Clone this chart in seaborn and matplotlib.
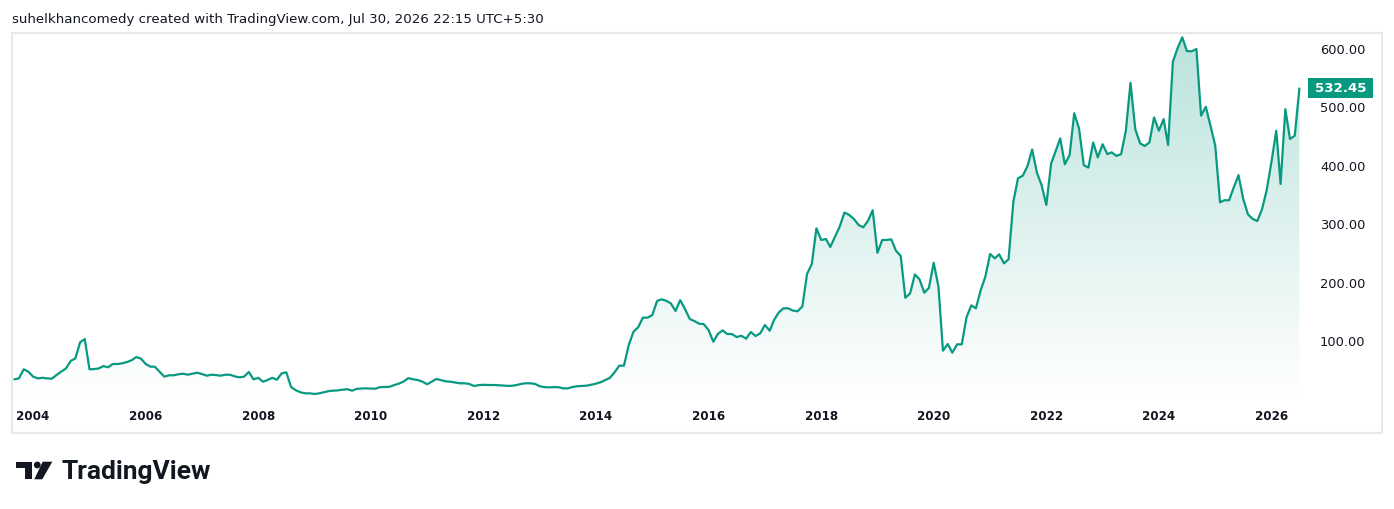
import matplotlib
matplotlib.use("Agg")
import numpy as np
import pandas as pd
import seaborn as sns
import matplotlib.pyplot as plt
import matplotlib.dates as mdates
from matplotlib.colors import to_rgb
from matplotlib.patches import Polygon, Rectangle, Ellipse
from matplotlib.transforms import blended_transform_factory

# ========= data (monthly close, Sep 2003 .. Jul 2026) =========
close_2003_2008 = [
    34.4, 36, 51.5, 47.5,                                                   # 2003 Sep-Dec
    39, 36, 37, 36, 35.5, 41.8, 47.5, 53, 65.8, 70.3, 97.7, 103.4,          # 2004
    51.5, 52, 53, 57, 55, 60.6, 60.6, 61.8, 64, 67, 72.6, 69.7,             # 2005
    60.6, 56, 56, 47.5, 39, 41.3, 41.3, 43, 44, 42.3, 44, 45.7,             # 2006
    43.5, 40.6, 42.3, 41.8, 40.6, 42.3, 42.3, 39.5, 37.8, 39, 47, 34.4,     # 2007
    37, 30.3, 33.2, 37, 33.7, 44.7, 46.4, 21.2, 15.6, 12.2, 10.4, 10.4,     # 2008
]
close_2009_2014 = [
    9.3, 10.5, 12.2, 14.2, 15, 15.5, 16.6, 17.5, 15, 18, 18.7, 19,          # 2009
    18.5, 18.5, 21, 21.2, 21.6, 24.5, 27, 30.5, 36.5, 34.5, 33.2, 30.5,     # 2010
    26, 30.5, 35, 33, 31, 30.3, 29, 27.6, 27.6, 26.5, 23, 24.5,             # 2011
    25, 24.7, 24.7, 24.4, 23.9, 23.3, 23.3, 24.4, 26.5, 27.6, 27.6, 26.5,   # 2012
    22.5, 21, 20.7, 21, 21, 19, 18.8, 21.3, 22.6, 23, 23.5, 25.3,           # 2013
    27, 29.5, 33, 37, 46.4, 57.8, 57.8, 93, 116, 123.4, 140, 140,           # 2014
]
close_2015_2020 = [
    144.5, 168.5, 171.4, 169, 164.5, 151.4, 170, 154.8, 137.7, 134.2, 129.6, 129,  # 2015
    118.8, 98.8, 112, 118.3, 112, 112, 106.8, 109, 104, 115.4, 108.6, 113,         # 2016
    127.4, 117.6, 136, 149, 156, 156, 152, 151, 159.4, 214.7, 231.8, 293,          # 2017
    273, 274.6, 261, 279, 296, 320, 316, 309, 298.6, 294.7, 306, 324,              # 2018
    251, 273, 273, 274, 254.6, 245.5, 174, 181.6, 214, 205.6, 182.7, 191,          # 2019
    234, 193, 83.4, 94.9, 80, 94.3, 94.3, 140.6, 161, 156, 187, 210,               # 2020
]
close_2021_2026 = [
    249, 241.6, 248.4, 233, 240, 338.6, 378.6, 383, 399.7, 428, 388, 367,          # 2021
    333, 404, 424, 447, 402.6, 418.5, 490, 464, 401, 397, 440, 414.5,              # 2022
    437, 420, 423, 417, 420, 460, 542, 463, 438.5, 434, 440, 483,                  # 2023
    460, 480, 435.6, 578, 601, 620, 596.6, 596, 600, 486, 501, 468.7,              # 2024
    434.5, 337.5, 341, 341, 363, 384, 344, 317, 309, 305.5, 326, 358.5,            # 2025
    407, 460, 369, 497, 446, 451.6, 532.45,                                        # 2026 Jan-Jul
]
start_month = "2003-09-01"
year_ticks = [2004, 2006, 2008, 2010, 2012, 2014, 2016, 2018, 2020, 2022, 2024, 2026]
price_ticks = [100, 200, 300, 400, 500, 600]
title_text = "suhelkhancomedy created with TradingView.com, Jul 30, 2026 22:15 UTC+5:30"
last_label = "532.45"
# ==============================================================

closes = close_2003_2008 + close_2009_2014 + close_2015_2020 + close_2021_2026
df = pd.DataFrame({
    "date": pd.date_range(start_month, periods=len(closes), freq="MS"),
    "close": closes,
})

LINE = "#089981"
TXT = "#131722"
W, H = 1394, 509

sns.set_style("white")
plt.rcParams["font.family"] = ["DejaVu Sans"]

fig = plt.figure(figsize=(W / 100, H / 100), dpi=100)
fig.patch.set_facecolor("white")


def fx(px):
    return px / W


def fy(py):
    return 1 - py / H


# price pane: x 12..1302, y 33..400 (pixels)
ax = fig.add_axes([fx(12), fy(400), (1302 - 12) / W, (400 - 33) / H])
ax.set_facecolor("none")

sns.lineplot(data=df, x="date", y="close", color=LINE, linewidth=1.6, ax=ax, zorder=3)

x = mdates.date2num(df["date"])
ymin, ymax = -1.0, 627.4

# gradient area under the line
verts = [(x[0], ymin)] + list(zip(x, df["close"])) + [(x[-1], ymin)]
clip = Polygon(verts, closed=True, facecolor="none", edgecolor="none", transform=ax.transData)
ax.add_patch(clip)
grad = np.zeros((256, 1, 4))
grad[..., :3] = to_rgb(LINE)
grad[:, 0, 3] = np.linspace(0.0, 0.28, 256)
im = ax.imshow(grad, extent=[x[0], x[-1], ymin, ymax], origin="lower",
               aspect="auto", zorder=1, interpolation="bilinear")
im.set_clip_path(clip)

ax.set_xlim(x[0] - 15, x[-1] + 17)
ax.set_ylim(ymin, ymax)

# axes / ticks
for s in ax.spines.values():
    s.set_visible(False)
ax.set_xlabel("")
ax.set_ylabel("")
ax.set_xticks([mdates.date2num(pd.Timestamp(f"{y}-01-01")) for y in year_ticks])
ax.set_xticklabels([str(y) for y in year_ticks], fontweight="bold")
ax.tick_params(axis="x", length=0, pad=7, labelsize=8.6, labelcolor=TXT)
ax.yaxis.tick_right()
ax.set_yticks(price_ticks)
ax.set_yticklabels([f"{v:.2f}" for v in price_ticks])
ax.tick_params(axis="y", length=0, pad=13, labelsize=9.4, labelcolor=TXT)
ax.grid(False)

# last price label
bt = blended_transform_factory(ax.transAxes, ax.transData)
last = df["close"].iloc[-1]
ax.add_patch(Rectangle((1.0046, last - 17.1), 0.0504, 34.2, transform=bt,
                       facecolor=LINE, edgecolor="none", clip_on=False, zorder=5))
ax.text(1.0046 + 0.0252, last, last_label, transform=bt, ha="center", va="center",
        color="white", fontsize=9.6, fontweight="semibold", zorder=6, clip_on=False)

# outer frame
fig.patches.append(Rectangle((fx(12), fy(433)), (1382 - 12) / W, (433 - 33) / H,
                             transform=fig.transFigure, facecolor="none",
                             edgecolor="#e8e8e8", linewidth=1.5))

# header
fig.text(fx(12), fy(19), title_text, ha="left", va="center", fontsize=9.6, color=TXT,
         family=["Liberation Sans Narrow", "DejaVu Sans"])

# TradingView logo
logo_t = [(15.7, 461.7), (32.3, 461.7), (32.3, 479.3), (25, 479.3), (25, 468.3), (15.7, 468.3)]
logo_v = [(42.7, 461.7), (52.3, 461.7), (42.3, 479.3), (34.3, 479.3)]
for pts in (logo_t, logo_v):
    fig.patches.append(Polygon([(fx(a), fy(b)) for a, b in pts], closed=True,
                               transform=fig.transFigure, facecolor="#131722", edgecolor="none"))
fig.patches.append(Ellipse((fx(37.3), fy(465)), 6.8 / W, 6.8 / H, transform=fig.transFigure,
                           facecolor="#131722", edgecolor="none"))
fig.text(fx(61), fy(479.5), "TradingView", ha="left", va="baseline", fontsize=19,
         fontweight="bold", color="#131722", family=["Roboto", "DejaVu Sans"])

fig.savefig("out.png", dpi=100)
